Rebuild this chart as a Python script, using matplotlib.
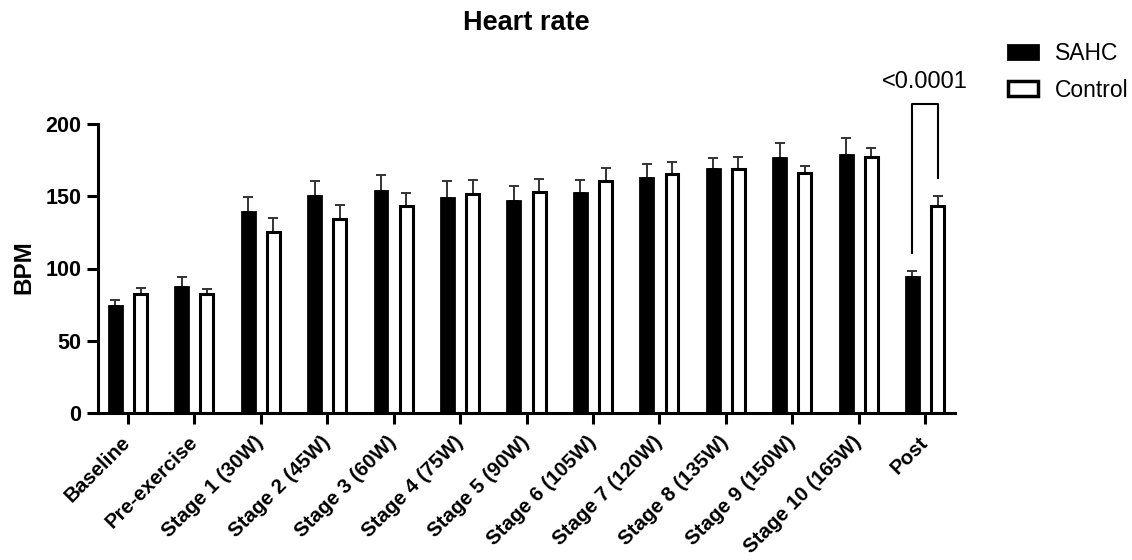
import numpy as np
import matplotlib
matplotlib.use('Agg')
import matplotlib.pyplot as plt
from matplotlib.patches import Patch

plt.rcParams['font.family'] = ['Liberation Sans', 'DejaVu Sans']

# data
stages = ['Baseline', 'Pre-exercise', 'Stage 1 (30W)', 'Stage 2 (45W)', 'Stage 3 (60W)',
          'Stage 4 (75W)', 'Stage 5 (90W)', 'Stage 6 (105W)', 'Stage 7 (120W)',
          'Stage 8 (135W)', 'Stage 9 (150W)', 'Stage 10 (165W)', 'Post']
sahc_mean = [74.3, 87.4, 139.1, 150.4, 153.9, 148.6, 146.9, 152.0, 162.6, 168.9, 176.7, 178.3, 94.3]
sahc_err = [3.9, 6.9, 10.2, 9.9, 10.6, 11.7, 10.2, 9.2, 9.7, 7.4, 9.9, 11.8, 4.2]
ctrl_mean = [82.3, 82.3, 125.6, 134.4, 143.2, 151.9, 152.9, 160.7, 165.1, 168.6, 165.8, 177.3, 143.4]
ctrl_err = [4.4, 3.5, 9.1, 9.3, 8.8, 9.1, 8.8, 8.9, 8.6, 8.6, 5.1, 5.9, 7.0]
p_label = '<0.0001'

x = np.arange(len(stages))
off = 0.19
w = 0.195

fig = plt.figure(figsize=(11.32, 5.6), dpi=100)
ax = fig.add_axes([98/1132, 1 - 413/560, (955 - 98)/1132, (413 - 124)/560])

ax.bar(x - off, sahc_mean, w, color='black', edgecolor='black', linewidth=2, label='SAHC', zorder=2)
ax.bar(x + off, ctrl_mean, w, color='white', edgecolor='black', linewidth=2.2, label='Control', zorder=2)
ax.errorbar(x - off, sahc_mean, yerr=[np.zeros(len(x)), sahc_err], fmt='none',
            ecolor='#333333', elinewidth=1.4, capsize=3.5, capthick=1.4, zorder=1)
ax.errorbar(x + off, ctrl_mean, yerr=[np.zeros(len(x)), ctrl_err], fmt='none',
            ecolor='#333333', elinewidth=1.4, capsize=3.5, capthick=1.4, zorder=1)

ax.set_xlim(-0.45, len(x) - 0.55)
ax.set_ylim(0, 200)
ax.set_yticks([0, 50, 100, 150, 200])
ax.set_xticks(x)
ax.set_xticklabels(stages, rotation=45, ha='right', va='center', rotation_mode='anchor',
                   fontsize=14.8, fontweight='bold')
for lbl in ax.get_yticklabels():
    lbl.set_fontsize(15.5)
    lbl.set_fontweight('bold')
ax.tick_params(axis='both', direction='out', length=8, width=2.2, pad=4)
ax.tick_params(axis='x', pad=11)
for s in ['top', 'right']:
    ax.spines[s].set_visible(False)
for s in ['left', 'bottom']:
    ax.spines[s].set_linewidth(2.2)

# significance bracket on Post
i = len(x) - 1
xl, xr = x[i] - off, x[i] + off
ytop = 213.8
ax.plot([xl, xl, xr, xr], [111, ytop, ytop, 162.4], color='black', lw=1.5, clip_on=False)
ax.text(x[i], 229, p_label, ha='center', va='center', fontsize=17)

fig.text(526.5/1132, 1 - 23/560, 'Heart rate', ha='center', va='center', fontsize=19.5, fontweight='bold')
fig.text(23.5/1132, 1 - 267/560, 'BPM', ha='center', va='center', rotation=90, fontsize=17.5, fontweight='bold')

handles = [Patch(facecolor='black', edgecolor='black', linewidth=2),
           Patch(facecolor='white', edgecolor='black', linewidth=2.5)]
fig.legend(handles, ['SAHC', 'Control'], loc='upper left', bbox_to_anchor=(1008/1132, 1 - 42/560),
           frameon=False, fontsize=16.5, handlelength=1.3, handleheight=0.6,
           handletextpad=0.75, labelspacing=0.6, borderpad=0, borderaxespad=0)

fig.savefig('out.png', dpi=100)
